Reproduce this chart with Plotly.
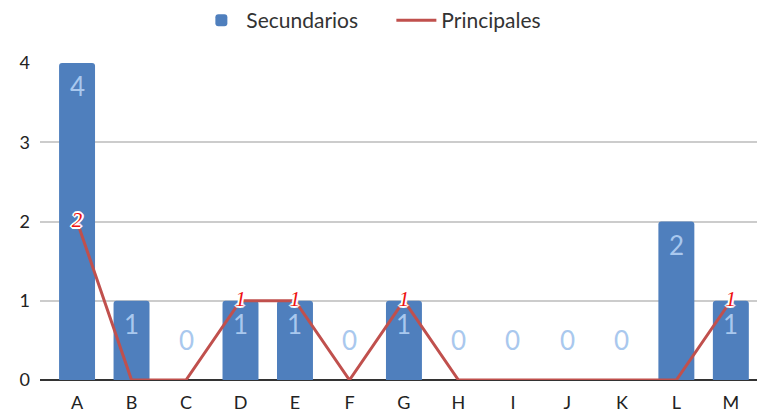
import plotly.graph_objects as go

categories = ["A", "B", "C", "D", "E", "F", "G", "H", "I", "J", "K", "L", "M"]
secundarios = [4, 1, 0, 1, 1, 0, 1, 0, 0, 0, 0, 2, 1]
principales = [2, 0, 0, 1, 1, 0, 1, 0, 0, 0, 0, 0, 1]
y_ticks = [0, 1, 2, 3, 4]

BAR = "#4f7fbd"
LINE = "#c0504d"

fig = go.Figure()
fig.add_trace(go.Bar(
    x=categories, y=secundarios, name="Secundarios",
    marker=dict(color=BAR, cornerradius=3, line=dict(width=0)),
    width=0.66, hoverinfo="x+y",
))
fig.add_trace(go.Scatter(
    x=categories, y=principales, name="Principales",
    mode="lines+text",
    line=dict(color=LINE, width=3),
    text=[str(v) if v else "" for v in principales],
    textposition="middle center",
    textfont=dict(family="Liberation Serif", size=21, color="#ee1111", style="italic",
                  shadow="1px 1px 0 white, -1px -1px 0 white, 1px -1px 0 white, -1px 1px 0 white, 0 1px 0 white, 0 -1px 0 white, 1px 0 0 white, -1px 0 0 white, 2px 0 0 white, -2px 0 0 white, 0 2px 0 white, 0 -2px 0 white"),
))

annotations = []
for c, v in zip(categories, secundarios):
    annotations.append(dict(
        x=c, y=v, xref="x", yref="y", text=str(v), showarrow=False,
        font=dict(family="Lato", size=26, color="#a9c8ee"),
        yshift=(-23 if v else 40),
    ))

fig.update_layout(
    width=757, height=412,
    margin=dict(l=40, r=0, t=63, b=32, autoexpand=False),
    paper_bgcolor="white", plot_bgcolor="white",
    font=dict(family="Lato", size=18, color="#222222"),
    bargap=0.34,
    annotations=annotations,
    showlegend=True,
    legend=dict(orientation="h", xanchor="center", xref="container", x=0.517,
                yref="container", y=1.0, yanchor="top",
                font=dict(size=21, color="#333333"), itemwidth=40,
                traceorder="normal", entrywidth=140),
    xaxis=dict(type="category", range=[-0.68, 12.48], showgrid=False, ticks="",
               tickfont=dict(size=18, color="#222222"), ticklabelstandoff=10,
               showline=False, zeroline=False, automargin=False),
    yaxis=dict(range=[0, 4], tickvals=y_ticks, showgrid=True, gridcolor="#cccccc",
               gridwidth=1.5, zeroline=True, zerolinecolor="#333333", zerolinewidth=1.5,
               tickfont=dict(size=18, color="#222222"), ticklabelstandoff=9,
               showline=False, automargin=False),
)

fig.write_html("out.html", config={"displayModeBar": False},
               post_script="document.body.style.margin='0';document.body.style.overflow='hidden';")
